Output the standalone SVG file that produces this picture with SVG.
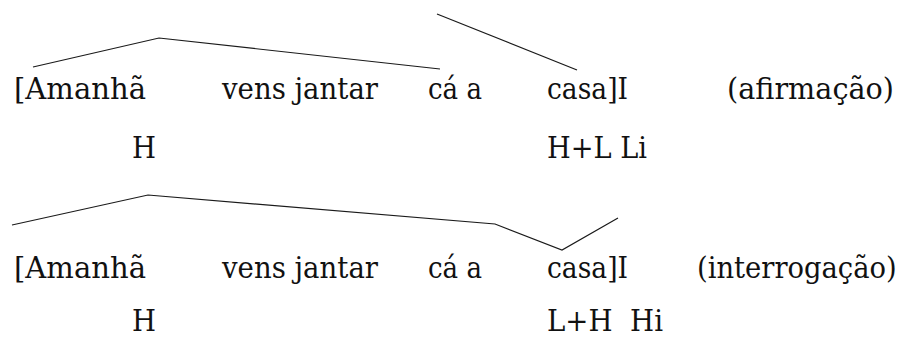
<svg xmlns="http://www.w3.org/2000/svg" width="903" height="338" viewBox="0 0 903 338">
<style>
.t{font-family:'DejaVu Serif','Liberation Serif',serif;font-size:29px;fill:#111;}
.c{fill:none;stroke:#1a1a1a;stroke-width:1.2;stroke-linejoin:miter;}
</style>
<rect width="903" height="338" fill="#fff"/>
<g id="contours">
<polyline class="c" points="33,67 159,38 440,69"/>
<line class="c" x1="437" y1="14" x2="577" y2="70"/>
<polyline class="c" points="12,225 148,195 495,224 562,250 618,218"/>
</g>
<g id="row1" class="t">
<g id="r1-amanha"><text x="14" y="99" textLength="132" lengthAdjust="spacingAndGlyphs">[Amanhã</text></g>
<g id="r1-vens"><text x="222" y="99" textLength="156" lengthAdjust="spacingAndGlyphs">vens jantar</text></g>
<g id="r1-ca"><text x="428" y="99" textLength="54" lengthAdjust="spacingAndGlyphs">cá a</text></g>
<g id="r1-casa"><text x="547" y="99" textLength="81" lengthAdjust="spacingAndGlyphs">casa]I</text></g>
<g id="r1-label"><text x="727" y="99" textLength="167" lengthAdjust="spacingAndGlyphs">(afirmação)</text></g>
<g id="r1-tone1"><text x="132" y="158" textLength="24" lengthAdjust="spacingAndGlyphs">H</text></g>
<g id="r1-tone2"><text x="547" y="158" textLength="100" lengthAdjust="spacingAndGlyphs">H+L Li</text></g>
</g>
<g id="row2" class="t">
<g id="r2-amanha"><text x="14" y="278" textLength="132" lengthAdjust="spacingAndGlyphs">[Amanhã</text></g>
<g id="r2-vens"><text x="222" y="278" textLength="156" lengthAdjust="spacingAndGlyphs">vens jantar</text></g>
<g id="r2-ca"><text x="428" y="278" textLength="54" lengthAdjust="spacingAndGlyphs">cá a</text></g>
<g id="r2-casa"><text x="547" y="278" textLength="81" lengthAdjust="spacingAndGlyphs">casa]I</text></g>
<g id="r2-label"><text transform="translate(697,278) scale(0.945,1)" x="0" y="0">(interrogação)</text></g>
<g id="r2-tone1"><text x="132" y="331" textLength="24" lengthAdjust="spacingAndGlyphs">H</text></g>
<g id="r2-tone2"><text x="547" y="331" textLength="116" lengthAdjust="spacingAndGlyphs" style="white-space:pre">L+H  Hi</text></g>
</g>
</svg>
